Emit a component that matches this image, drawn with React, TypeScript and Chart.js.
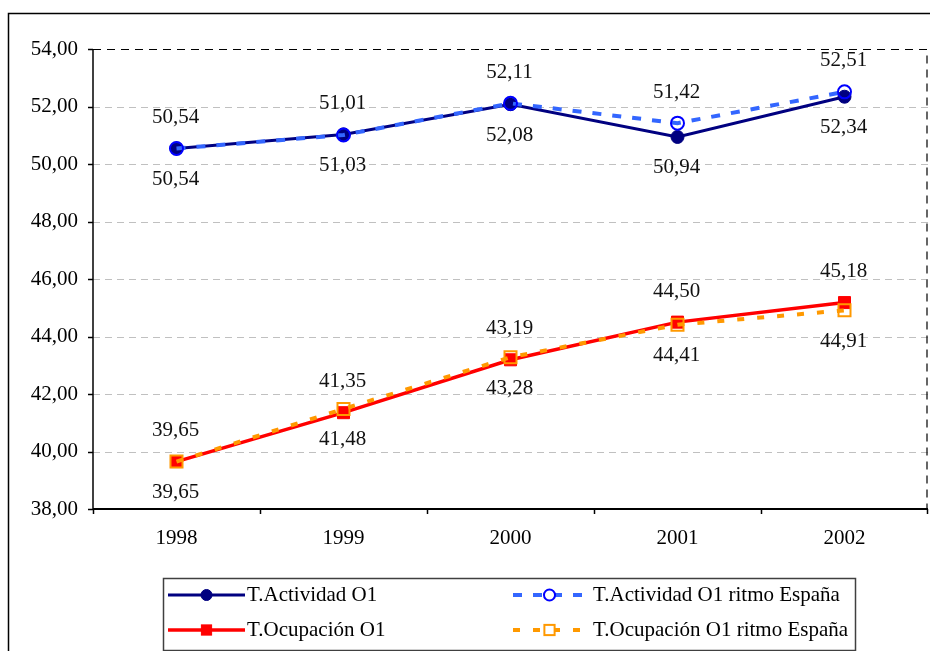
import React, { useEffect, useRef } from "react";
import { Chart, registerables } from "chart.js";

Chart.register(...registerables);

const years = ["1998", "1999", "2000", "2001", "2002"];
const actividadO1 = [50.54, 51.03, 52.08, 50.94, 52.34];
const actividadEspana = [50.54, 51.01, 52.11, 51.42, 52.51];
const ocupacionO1 = [39.65, 41.35, 43.19, 44.5, 45.18];
const ocupacionEspana = [39.65, 41.48, 43.28, 44.41, 44.91];
const seriesNames = [
  "T.Actividad O1",
  "T.Actividad O1 ritmo España",
  "T.Ocupación O1",
  "T.Ocupación O1 ritmo España",
];
const labelSides = ["below", "above", "above", "below"];
const yMin = 38;
const yMax = 54;
const yStep = 2;

const FONT = "'Liberation Serif', 'Times New Roman', serif";
const fmt = (v: number) => v.toFixed(2).replace(".", ",");

const NAVY = "#000080";
const BLUE_LINE = "#3366FF";
const BLUE_MARK = "#0000FF";
const RED = "#FF0000";
const ORANGE = "#FF9900";

const framePlugin = {
  id: "framePlugin",
  beforeDatasetsDraw(chart: any) {
    const ctx = chart.ctx;
    const { left, right, bottom } = chart.chartArea;
    const ys = chart.scales.y;
    const xs = chart.scales.x;
    ctx.save();
    // outer frame
    ctx.strokeStyle = "#000";
    ctx.lineWidth = 1.5;
    ctx.beginPath();
    ctx.moveTo(8.5, chart.height + 2);
    ctx.lineTo(8.5, 13.5);
    ctx.lineTo(chart.width + 2, 13.5);
    ctx.stroke();
    // gridlines
    ctx.strokeStyle = "#c0c0c0";
    ctx.lineWidth = 1;
    ctx.setLineDash([7, 5]);
    for (let v = yMin + yStep; v < yMax; v += yStep) {
      const y = Math.round(ys.getPixelForValue(v)) + 0.5;
      ctx.beginPath();
      ctx.moveTo(left, y);
      ctx.lineTo(right, y);
      ctx.stroke();
    }
    // top & right dashed border
    ctx.strokeStyle = "#000";
    ctx.lineWidth = 1.2;
    ctx.setLineDash([8, 6]);
    const yt = Math.round(ys.getPixelForValue(yMax)) + 0.5;
    ctx.beginPath();
    ctx.moveTo(left, yt);
    ctx.lineTo(right - 1, yt);
    ctx.lineTo(right - 1, bottom);
    ctx.stroke();
    ctx.setLineDash([]);
    // left axis
    ctx.lineWidth = 1.5;
    ctx.beginPath();
    ctx.moveTo(left, yt);
    ctx.lineTo(left, bottom);
    ctx.stroke();
    for (let v = yMin; v <= yMax; v += yStep) {
      const y = Math.round(ys.getPixelForValue(v)) + 0.5;
      ctx.beginPath();
      ctx.moveTo(left - 5, y);
      ctx.lineTo(left, y);
      ctx.stroke();
    }
    // bottom axis
    ctx.lineWidth = 2;
    ctx.beginPath();
    ctx.moveTo(left, bottom);
    ctx.lineTo(right, bottom);
    ctx.stroke();
    ctx.lineWidth = 1.5;
    const n = years.length;
    for (let i = 0; i <= n; i++) {
      const x = Math.round(xs.left + (i * xs.width) / n) - (i === n ? 1 : 0) + 0.5;
      ctx.beginPath();
      ctx.moveTo(x, bottom);
      ctx.lineTo(x, bottom + 5);
      ctx.stroke();
    }
    ctx.restore();
  },
  afterDatasetsDraw(chart: any) {
    const ctx = chart.ctx;
    ctx.save();
    // data labels
    ctx.font = `21px ${FONT}`;
    ctx.fillStyle = "#111";
    ctx.textAlign = "center";
    ctx.textBaseline = "middle";
    chart.data.datasets.forEach((ds: any, di: number) => {
      const meta = chart.getDatasetMeta(di);
      meta.data.forEach((pt: any, i: number) => {
        const off = labelSides[di] === "above" ? -31 : 31;
        ctx.fillText(fmt(ds.data[i]), pt.x - 1, pt.y + off);
      });
    });
    // legend
    const bx = 163, by = 578, bw = 692, bh = 72;
    ctx.strokeStyle = "#404040";
    ctx.lineWidth = 1.5;
    ctx.strokeRect(bx + 0.5, by + 0.5, bw, bh);
    const rows = [595, 630];
    const cols = [
      { x0: 168, x1: 245, tx: 247 },
      { x0: 513, x1: 586, tx: 593 },
    ];
    const items = [
      { ds: 0, col: 0, row: 0 },
      { ds: 1, col: 1, row: 0 },
      { ds: 2, col: 0, row: 1 },
      { ds: 3, col: 1, row: 1 },
    ];
    items.forEach(({ ds, col, row }) => {
      const d: any = chart.data.datasets[ds];
      const c = cols[col];
      const y = rows[row];
      ctx.save();
      ctx.strokeStyle = d.borderColor;
      ctx.lineWidth = d.borderWidth;
      ctx.setLineDash(d.borderDash || []);
      ctx.beginPath();
      ctx.moveTo(c.x0, y);
      ctx.lineTo(c.x1, y);
      ctx.stroke();
      ctx.setLineDash([]);
      const mx = (c.x0 + c.x1) / 2;
      ctx.fillStyle = d.pointBackgroundColor === "transparent" ? "#fff" : d.pointBackgroundColor;
      ctx.strokeStyle = d.pointBorderColor;
      ctx.lineWidth = d.pointBorderWidth;
      if (d.pointStyle === "rect") {
        const s = d.pointRadius * Math.SQRT1_2 * 0.85;
        ctx.fillRect(mx - s, y - s, 2 * s, 2 * s);
        ctx.strokeRect(mx - s, y - s, 2 * s, 2 * s);
      } else {
        ctx.beginPath();
        ctx.arc(mx, y, d.pointRadius * 0.85, 0, Math.PI * 2);
        ctx.fill();
        ctx.stroke();
      }
      ctx.restore();
      ctx.font = `21px ${FONT}`;
      ctx.fillStyle = "#000";
      ctx.textAlign = "left";
      ctx.textBaseline = "middle";
      ctx.fillText(seriesNames[ds], c.tx, y);
    });
    ctx.restore();
  },
};

export default function App() {
  const ref = useRef<HTMLCanvasElement | null>(null);
  useEffect(() => {
    if (!ref.current) return;
    const chart = new Chart(ref.current, {
      type: "line",
      data: {
        labels: years,
        datasets: [
          {
            label: seriesNames[0],
            data: actividadO1,
            borderColor: NAVY,
            borderWidth: 3,
            pointStyle: "circle",
            pointRadius: 6.5,
            pointBackgroundColor: NAVY,
            pointBorderColor: NAVY,
            pointBorderWidth: 1,
            order: 4,
          } as any,
          {
            label: seriesNames[1],
            data: actividadEspana,
            borderColor: BLUE_LINE,
            borderWidth: 4,
            borderDash: [9, 11],
            pointStyle: "circle",
            pointRadius: 6.5,
            pointBackgroundColor: "transparent",
            pointBorderColor: BLUE_MARK,
            pointBorderWidth: 2,
            order: 3,
          },
          {
            label: seriesNames[2],
            data: ocupacionO1,
            borderColor: RED,
            borderWidth: 3.5,
            pointStyle: "rect",
            pointRadius: 8.5,
            pointBackgroundColor: RED,
            pointBorderColor: RED,
            pointBorderWidth: 1,
            order: 2,
          },
          {
            label: seriesNames[3],
            data: ocupacionEspana,
            borderColor: ORANGE,
            borderWidth: 4,
            borderDash: [7, 13],
            pointStyle: "rect",
            pointRadius: 8.5,
            pointBackgroundColor: "transparent",
            pointBorderColor: ORANGE,
            pointBorderWidth: 2,
            order: 1,
          },
        ],
      },
      options: {
        responsive: false,
        animation: false,
        tension: 0,
        layout: { autoPadding: false, padding: { left: 0, top: 49, right: 2, bottom: 82 } },
        plugins: {
          legend: { display: false },
          tooltip: { enabled: false },
          title: { display: false },
        },
        scales: {
          x: {
            type: "category",
            offset: true,
            grid: { display: false, drawTicks: false },
            border: { display: false },
            ticks: {
              color: "#000",
              font: { family: FONT, size: 21 },
              padding: 17,
              maxRotation: 0,
              autoSkip: false,
            },
            afterFit: (s: any) => {
              s.height = 60;
              s.paddingLeft = 0;
              s.paddingRight = 0;
            },
          },
          y: {
            min: yMin,
            max: yMax,
            grid: { display: false, drawTicks: false },
            border: { display: false },
            ticks: {
              stepSize: yStep,
              color: "#000",
              font: { family: FONT, size: 21 },
              padding: 15,
              callback: (v: any) => fmt(Number(v)),
            },
            afterFit: (s: any) => {
              s.width = 93;
              s.paddingTop = 0;
              s.paddingBottom = 0;
            },
          },
        },
      } as any,
      plugins: [framePlugin],
    });
    return () => chart.destroy();
  }, []);
  return (
    <div style={{ position: "absolute", left: 0, top: 0, width: 930, height: 651, background: "#fff" }}>
      <canvas ref={ref} width={930} height={651} style={{ display: "block" }} />
    </div>
  );
}
